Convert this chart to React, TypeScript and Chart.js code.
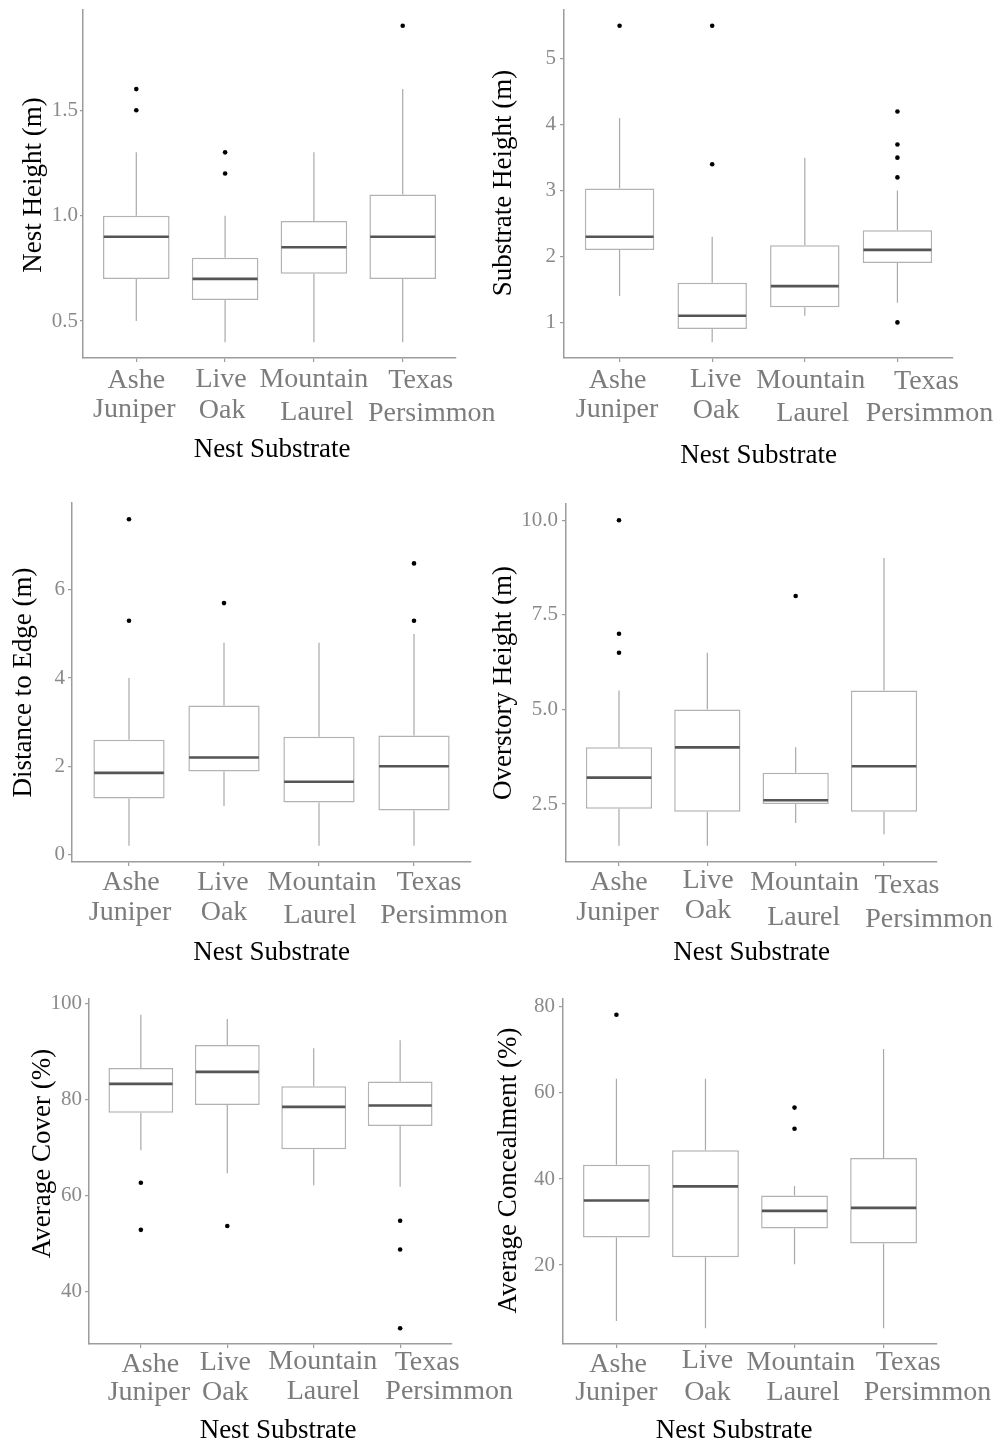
import React, { useEffect, useRef } from "react";
import { Chart, registerables } from "chart.js";

Chart.register(...registerables);

const SERIF = "'Liberation Serif', 'Times New Roman', Times, serif";

// Shared x-axis categories (two-line labels) and axis title
const substrates = [
  ["Ashe", "Juniper"],
  ["Live", "Oak"],
  ["Mountain", "Laurel"],
  ["Texas", "Persimmon"],
];
const xAxisTitle = "Nest Substrate";

// Each summary row: [lower whisker, Q1, median, Q3, upper whisker]
const nestHeight = [
  [0.5, 0.7, 0.9, 1.0, 1.3],
  [0.4, 0.6, 0.7, 0.8, 1.0],
  [0.4, 0.725, 0.85, 0.975, 1.3],
  [0.4, 0.7, 0.9, 1.1, 1.6],
];
const nestHeightOutliers = [[1.5, 1.6], [1.2, 1.3], [], [1.9]];
const nestHeightTicks = [0.5, 1.0, 1.5];

const substrateHeight = [
  [1.4, 2.1, 2.3, 3.03, 4.1],
  [0.7, 0.9, 1.1, 1.6, 2.3],
  [1.1, 1.23, 1.55, 2.17, 3.5],
  [1.3, 1.9, 2.1, 2.4, 3.0],
];
const substrateHeightOutliers = [[5.5], [3.4, 5.5], [], [1.0, 3.2, 3.5, 3.7, 4.2]];
const substrateHeightTicks = [1, 2, 3, 4, 5];

const edgeDistance = [
  [0.2, 1.27, 1.85, 2.6, 4.0],
  [1.1, 1.88, 2.2, 3.38, 4.8],
  [0.2, 1.18, 1.65, 2.67, 4.8],
  [0.2, 1.0, 2.0, 2.7, 5.0],
];
const edgeDistanceOutliers = [[5.3, 7.6], [5.7], [], [5.3, 6.6]];
const edgeDistanceTicks = [0, 2, 4, 6];

const overstoryHeight = [
  [1.4, 2.38, 3.2, 4.0, 5.5],
  [1.4, 2.3, 4.0, 5.0, 6.5],
  [2.0, 2.5, 2.6, 3.33, 4.0],
  [1.7, 2.3, 3.5, 5.5, 9.0],
];
const overstoryHeightOutliers = [[6.5, 7.0, 10.0], [], [8.0], []];
const overstoryHeightTicks = [2.5, 5.0, 7.5, 10.0];

const averageCover = [
  [69.5, 77.3, 83.3, 86.6, 97.7],
  [64.7, 78.9, 85.8, 91.4, 96.8],
  [62.2, 69.7, 78.5, 82.8, 90.7],
  [61.9, 74.5, 78.8, 83.8, 92.4],
];
const averageCoverOutliers = [[52.9, 62.7], [53.7], [], [32.4, 48.8, 54.8]];
const averageCoverTicks = [40, 60, 80, 100];

const concealment = [
  [7.0, 26.4, 35.0, 43.3, 63.3],
  [5.3, 21.8, 38.3, 46.7, 63.3],
  [20.2, 28.5, 32.6, 36.2, 38.4],
  [5.3, 25.0, 33.3, 44.9, 70.2],
];
const concealmentOutliers = [[78.2], [], [51.7, 56.6], []];
const concealmentTicks = [20, 40, 60, 80];

// Styling
const AXIS_GREY = "#9c9c9c";
const BOX_GREY = "#b2b2b2";
const WHISKER_GREY = "#a9a9a9";
const MEDIAN_GREY = "#555555";
const TICK_TEXT = "#8a8a8a";
const CATEGORY_TEXT = "#7c7c7c";

type Frame = { left: number; top: number; width: number; height: number };
type Area = { left: number; right: number; top: number; bottom: number };

type PanelSpec = {
  yTitle: string;
  stats: number[][];
  outliers: number[][];
  ticks: number[];
  decimals: number;
  frame: Frame;
  area: Area;
  tickLen: number;
  tickPad: number;
  yTitleX: number;
  yTitleDy: number;
  labelDx: number[][];
  labelDy: number[][];
  xTitleDx: number;
  xTitleDy: number;
};

const panels: PanelSpec[] = [
  {
    yTitle: "Nest Height (m)",
    stats: nestHeight,
    outliers: nestHeightOutliers,
    ticks: nestHeightTicks,
    decimals: 1,
    frame: { left: 0, top: 0, width: 500, height: 470 },
    area: { left: 83, right: 456, top: 10, bottom: 358 },
    tickLen: 3,
    tickPad: 2,
    yTitleX: -42,
    yTitleDy: 1,
    labelDx: [[0, -2], [-4, -3], [0, 3], [18, 29]],
    labelDy: [[30, 59], [29, 60], [29, 62], [30, 63]],
    xTitleDx: 2.5,
    xTitleDy: 99,
  },
  {
    yTitle: "Substrate Height (m)",
    stats: substrateHeight,
    outliers: substrateHeightOutliers,
    ticks: substrateHeightTicks,
    decimals: 0,
    frame: { left: 480, top: 0, width: 520, height: 470 },
    area: { left: 564, right: 953, top: 10, bottom: 358 },
    tickLen: 4,
    tickPad: 4,
    yTitleX: -53,
    yTitleDy: -1,
    labelDx: [[-2, -2.5], [3.5, 4], [6, 8], [29, 32]],
    labelDy: [[30, 59], [29, 60], [30, 63], [31, 63]],
    xTitleDx: 0,
    xTitleDy: 105,
  },
  {
    yTitle: "Distance to Edge (m)",
    stats: edgeDistance,
    outliers: edgeDistanceOutliers,
    ticks: edgeDistanceTicks,
    decimals: 0,
    frame: { left: 0, top: 490, width: 520, height: 480 },
    area: { left: 72, right: 471, top: 503, bottom: 862 },
    tickLen: 4,
    tickPad: 3,
    yTitleX: -41,
    yTitleDy: 0,
    labelDx: [[2, 1], [-1, 0], [3, 1], [15, 30]],
    labelDy: [[28, 58], [28, 58], [28, 61], [28, 61]],
    xTitleDx: 0,
    xTitleDy: 98,
  },
  {
    yTitle: "Overstory Height (m)",
    stats: overstoryHeight,
    outliers: overstoryHeightOutliers,
    ticks: overstoryHeightTicks,
    decimals: 1,
    frame: { left: 480, top: 490, width: 520, height: 480 },
    area: { left: 566, right: 937, top: 504, bottom: 862 },
    tickLen: 4,
    tickPad: 4,
    yTitleX: -55,
    yTitleDy: 0,
    labelDx: [[0, -1.5], [0.7, 0.7], [9, 8], [23, 45]],
    labelDy: [[28, 58], [26, 56], [28, 63], [31, 65]],
    xTitleDx: 0,
    xTitleDy: 98,
  },
  {
    yTitle: "Average Cover (%)",
    stats: averageCover,
    outliers: averageCoverOutliers,
    ticks: averageCoverTicks,
    decimals: 0,
    frame: { left: 0, top: 980, width: 520, height: 465 },
    area: { left: 89, right: 452, top: 999, bottom: 1344 },
    tickLen: 4,
    tickPad: 3,
    yTitleX: -39,
    yTitleDy: -18,
    labelDx: [[9.5, 8], [-2, -2], [9, 9.5], [27, 49]],
    labelDy: [[27.5, 56], [26, 56], [25, 55], [26, 55]],
    xTitleDx: 7.5,
    xTitleDy: 94,
  },
  {
    yTitle: "Average Concealment (%)",
    stats: concealment,
    outliers: concealmentOutliers,
    ticks: concealmentTicks,
    decimals: 0,
    frame: { left: 480, top: 980, width: 520, height: 465 },
    area: { left: 563, right: 937, top: 999, bottom: 1344 },
    tickLen: 4,
    tickPad: 4,
    yTitleX: -47,
    yTitleDy: -1,
    labelDx: [[1.7, 0], [2, 2], [6.4, 8.6], [24.7, 44]],
    labelDy: [[27.5, 56], [24, 56], [26, 56], [26, 56]],
    xTitleDx: -16,
    xTitleDy: 94,
  },
];

function BoxPanel({ spec }: { spec: PanelSpec }) {
  const canvasRef = useRef<HTMLCanvasElement | null>(null);

  useEffect(() => {
    const canvas = canvasRef.current;
    if (!canvas) return;
    const { frame, area } = spec;

    const boxData = spec.stats.map((s, i) => ({ x: i, y: [s[1], s[3]] }));
    const outlierData = spec.outliers.flatMap((vals, i) =>
      vals.map((v) => ({ x: i, y: v }))
    );
    // ggplot-style 5% expansion around the full data range
    const allValues = spec.stats.flat().concat(spec.outliers.flat());
    const lo = Math.min(...allValues);
    const hi = Math.max(...allValues);
    const pad = (hi - lo) * 0.05;

    const boxParts = {
      id: "boxParts",
      beforeDatasetsDraw(chart: any) {
        const { ctx } = chart;
        const xs = chart.scales.x;
        const ys = chart.scales.y;
        ctx.save();
        ctx.strokeStyle = WHISKER_GREY;
        ctx.lineWidth = 1.2;
        spec.stats.forEach((s, i) => {
          const px = xs.getPixelForValue(i);
          ctx.beginPath();
          ctx.moveTo(px, ys.getPixelForValue(s[0]));
          ctx.lineTo(px, ys.getPixelForValue(s[1]));
          ctx.moveTo(px, ys.getPixelForValue(s[3]));
          ctx.lineTo(px, ys.getPixelForValue(s[4]));
          ctx.stroke();
        });
        ctx.restore();
      },
      afterDatasetsDraw(chart: any) {
        const { ctx } = chart;
        const ys = chart.scales.y;
        const meta = chart.getDatasetMeta(0);
        ctx.save();
        ctx.strokeStyle = MEDIAN_GREY;
        ctx.lineWidth = 2.6;
        spec.stats.forEach((s, i) => {
          const el: any = meta.data[i];
          const half = el.width / 2 - 0.75;
          const py = ys.getPixelForValue(s[2]);
          ctx.beginPath();
          ctx.moveTo(el.x - half, py);
          ctx.lineTo(el.x + half, py);
          ctx.stroke();
        });
        ctx.restore();
      },
      afterDraw(chart: any) {
        const { ctx, chartArea } = chart;
        const xs = chart.scales.x;
        ctx.save();
        // category labels
        ctx.font = `28px ${SERIF}`;
        ctx.fillStyle = CATEGORY_TEXT;
        ctx.textAlign = "center";
        ctx.textBaseline = "alphabetic";
        substrates.forEach((lines, i) => {
          const px = xs.getPixelForValue(i);
          lines.forEach((line, j) => {
            ctx.fillText(
              line,
              px + spec.labelDx[i][j],
              chartArea.bottom + spec.labelDy[i][j]
            );
          });
        });
        // axis titles
        ctx.font = `27px ${SERIF}`;
        ctx.fillStyle = "#000000";
        ctx.fillText(
          xAxisTitle,
          (chartArea.left + chartArea.right) / 2 + spec.xTitleDx,
          chartArea.bottom + spec.xTitleDy
        );
        ctx.translate(
          chartArea.left + spec.yTitleX,
          (chartArea.top + chartArea.bottom) / 2 + spec.yTitleDy
        );
        ctx.rotate(-Math.PI / 2);
        ctx.fillText(spec.yTitle, 0, 0);
        ctx.restore();
      },
    };

    const chart = new Chart(canvas, {
      type: "bar",
      data: {
        datasets: [
          {
            type: "bar",
            data: boxData as any,
            backgroundColor: "#ffffff",
            borderColor: BOX_GREY,
            borderWidth: 1.5,
            borderSkipped: false,
            barPercentage: 0.75,
            categoryPercentage: 1,
            order: 2,
          } as any,
          {
            type: "scatter",
            data: outlierData as any,
            backgroundColor: "#000000",
            borderWidth: 0,
            pointRadius: 2.3,
            showLine: false,
            order: 1,
          } as any,
        ],
      },
      options: {
        responsive: false,
        maintainAspectRatio: false,
        devicePixelRatio: 1,
        animation: false,
        events: [],
        layout: {
          padding: {
            left: 0,
            top: area.top - frame.top,
            right: frame.left + frame.width - area.right,
            bottom: 0,
          },
        },
        plugins: {
          legend: { display: false },
          tooltip: { enabled: false },
          title: { display: false },
        },
        scales: {
          x: {
            type: "linear",
            min: -0.6,
            max: 3.6,
            offset: false,
            afterBuildTicks: (s: any) => {
              s.ticks = substrates.map((_, i) => ({ value: i }));
            },
            afterFit: (s: any) => {
              s.height = frame.top + frame.height - area.bottom;
              s.paddingLeft = 0;
              s.paddingRight = 0;
            },
            ticks: { display: false },
            grid: {
              display: true,
              offset: false,
              drawOnChartArea: false,
              drawTicks: true,
              tickLength: 4,
              color: AXIS_GREY,
              lineWidth: 1.2,
            },
            border: { display: true, color: AXIS_GREY, width: 1.5 },
          },
          y: {
            type: "linear",
            min: lo - pad,
            max: hi + pad,
            afterBuildTicks: (s: any) => {
              s.ticks = spec.ticks.map((v) => ({ value: v }));
            },
            afterFit: (s: any) => {
              s.width = area.left - frame.left;
              s.paddingTop = 0;
              s.paddingBottom = 0;
            },
            ticks: {
              padding: spec.tickPad,
              color: TICK_TEXT,
              font: { family: SERIF, size: 21 },
              callback: (v: any) => Number(v).toFixed(spec.decimals),
            },
            grid: {
              display: true,
              drawOnChartArea: false,
              drawTicks: true,
              tickLength: spec.tickLen,
              color: AXIS_GREY,
              lineWidth: 1.2,
            },
            border: { display: true, color: AXIS_GREY, width: 1.5 },
          },
        },
      } as any,
      plugins: [boxParts],
    });

    return () => chart.destroy();
  }, [spec]);

  const { frame } = spec;
  return (
    <canvas
      ref={canvasRef}
      width={frame.width}
      height={frame.height}
      style={{
        position: "absolute",
        left: frame.left,
        top: frame.top,
        width: frame.width,
        height: frame.height,
      }}
    />
  );
}

export default function App() {
  return (
    <div
      style={{
        position: "absolute",
        left: 0,
        top: 0,
        width: 1000,
        height: 1445,
        background: "#ffffff",
        overflow: "hidden",
      }}
    >
      {panels.map((p) => (
        <BoxPanel key={p.yTitle} spec={p} />
      ))}
    </div>
  );
}
